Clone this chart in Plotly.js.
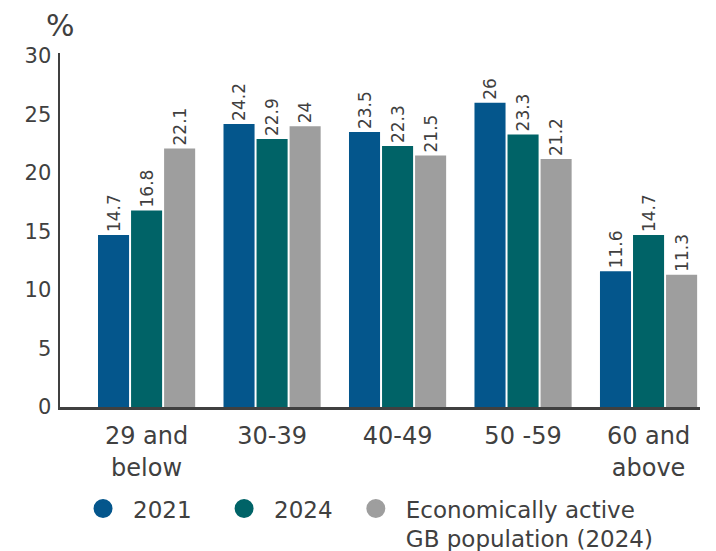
<!DOCTYPE html>
<html>
<head>
<meta charset="utf-8">
<script src="https://cdn.plot.ly/plotly-3.0.1.min.js"></script>
<style>html,body{margin:0;padding:0;background:#fff;}#chart{width:716px;height:551px;}</style>
</head>
<body>
<div id="chart"></div>
<script>
const categories = ["29 and<br>below", "30-39", "40-49", "50 -59", "60 and<br>above"];
const seriesNames = ["2021", "2024", "Economically active<br>GB population (2024)"];
const values2021 = [14.7, 24.2, 23.5, 26, 11.6];
const values2024 = [16.8, 22.9, 22.3, 23.3, 14.7];
const valuesGB = [22.1, 24, 21.5, 21.2, 11.3];
const yTicks = [0, 5, 10, 15, 20, 25, 30];

const colors = ["#04568C", "#006367", "#9E9E9E"];
const textColor = "#404040";
const font = "DejaVu Sans, Verdana, sans-serif";
const allSeries = [values2021, values2024, valuesGB];
const legendIds = ["legend", "legend2", "legend3"];
const legendX = [0.102, 0.299, 0.483];

const traces = [];
allSeries.forEach((vals, i) => {
  traces.push({
    type: "bar",
    x: categories,
    y: vals,
    name: seriesNames[i],
    marker: {color: colors[i]},
    text: vals.map(v => String(v)),
    textposition: "outside",
    textangle: -90,
    constraintext: "none",
    cliponaxis: false,
    textfont: {family: font, size: 17, color: textColor},
    showlegend: false,
    hoverinfo: "x+y"
  });
});
allSeries.forEach((vals, i) => {
  traces.push({
    type: "scatter",
    mode: "markers",
    x: [null],
    y: [null],
    name: seriesNames[i],
    legend: legendIds[i],
    marker: {symbol: "circle", size: 16, color: colors[i], line: {color: colors[i], width: 3}},
    showlegend: true
  });
});

const layout = {
  width: 716,
  height: 551,
  margin: {l: 60, r: 16, t: 53, b: 144},
  paper_bgcolor: "#ffffff",
  plot_bgcolor: "#ffffff",
  font: {family: font, color: textColor},
  barmode: "group",
  bargap: 0.21,
  bargroupgap: 0.06,
  xaxis: {
    type: "category",
    range: [-0.69, 4.41],
    showline: true,
    linecolor: textColor,
    linewidth: 2.5,
    showgrid: false,
    zeroline: false,
    ticks: "",
    tickfont: {family: font, size: 24, color: textColor},
    ticklabelstandoff: 6,
    fixedrange: true
  },
  yaxis: {
    range: [0, 30.26],
    tickvals: yTicks,
    ticktext: yTicks.map(String),
    showline: true,
    linecolor: textColor,
    linewidth: 2.5,
    showgrid: false,
    zeroline: false,
    ticks: "",
    ticklabelstandoff: 2,
    tickfont: {family: font, size: 21, color: textColor},
    fixedrange: true
  },
  annotations: [{
    text: "%",
    xref: "paper", yref: "paper",
    x: 0.0, y: 1.0,
    xanchor: "center", yanchor: "bottom",
    yshift: 8,
    showarrow: false,
    font: {family: font, size: 30, color: textColor}
  }]
};
legendIds.forEach((id, i) => {
  layout[id] = {
    orientation: "h",
    xref: "container", yref: "container",
    x: legendX[i], xanchor: "left",
    y: 0.116, yanchor: "top",
    valign: "top",
    itemwidth: 50,
    font: {family: font, size: 23, color: textColor},
    bgcolor: "rgba(0,0,0,0)"
  };
});

Plotly.newPlot("chart", traces, layout, {displayModeBar: false, staticPlot: true});
</script>
</body>
</html>
